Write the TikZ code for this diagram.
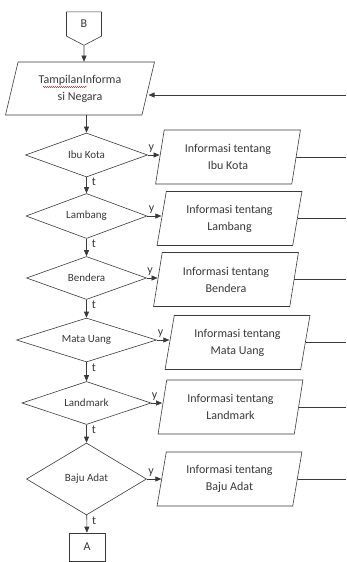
\documentclass[tikz,border=0pt]{standalone}
\usepackage{fontspec}
\setmainfont{Carlito}
\usetikzlibrary{shapes.geometric,shapes.symbols,arrows.meta,decorations.pathmorphing}
\definecolor{linegray}{HTML}{3A3A3A}
\definecolor{textgray}{HTML}{383838}
\tikzset{
  info/.style={draw=linegray, trapezium, trapezium left angle=77, trapezium right angle=103,
    trapezium stretches=true, minimum width=145pt, minimum height=54pt, inner sep=0pt,
    align=center, font=\fontsize{12}{17}\selectfont},
  decision/.style={draw=linegray, diamond, aspect=2.7, inner sep=0pt,
    font=\fontsize{11}{13}\selectfont},
  offpage/.style={draw=linegray, signal, signal to=south, signal from=nowhere,
    signal pointer angle=125, minimum width=35pt, minimum height=26pt, inner sep=0pt,
    font=\fontsize{12}{14}\selectfont},
  lbl/.style={font=\fontsize{12}{14}\selectfont, inner sep=1pt},
  spelling/.style={red, line width=0.4pt, decorate,
    decoration={snake, amplitude=0.6pt, segment length=2pt}}
}
\begin{document}
\begin{tikzpicture}[x=1pt, y=-1pt, every node/.append style={text=textgray},
    >={Triangle[length=6pt,width=5pt]}, line width=0.6pt]
  \useasboundingbox (0,0) rectangle (346,562);

  \node[offpage] (b) at (84,24) {B};
  \node[info, trapezium left angle=73, trapezium right angle=107, minimum width=150pt,
    minimum height=53pt] (p0) at (80,88.5) {TampilanInforma\\si Negara};
  \draw[spelling] ([shift={(-37,-1.5)}]p0.center) -- ([shift={(7,-1.5)}]p0.center);

  \node[decision, minimum width=122pt, minimum height=44pt] (d1) at (86.5,155) {Ibu Kota};
  \node[decision, minimum width=121pt, minimum height=45pt] (d2) at (86.5,216) {Lambang};
  \node[decision, minimum width=120pt, minimum height=43pt] (d3) at (86.5,278) {Bendera};
  \node[decision, minimum width=140pt, minimum height=44pt] (d4) at (86.5,340) {Mata Uang};
  \node[decision, minimum width=129pt, minimum height=43pt] (d5) at (86.5,403) {Landmark};
  \node[decision, minimum width=120pt, minimum height=72pt] (d6) at (86.5,479) {Baju Adat};

  \node[info] (i1) at (228,157) {Informasi tentang\\Ibu Kota};
  \node[info] (i2) at (229.5,218.5) {Informasi tentang\\Lambang};
  \node[info] (i3) at (226,279.5) {Informasi tentang\\Bendera};
  \node[info] (i4) at (237.5,342.5) {Informasi tentang\\Mata Uang};
  \node[info] (i5) at (230.5,407) {Informasi tentang\\Landmark};
  \node[info] (i6) at (229.5,479) {Informasi tentang\\Baju Adat};

  \node[draw=linegray, minimum width=36pt, minimum height=28pt, inner sep=0pt,
    font=\fontsize{12}{14}\selectfont] (a) at (87,547) {A};

  \coordinate (r0) at (346,95);

  % alur utama
  \draw[->, linegray] (b) -- (b |- p0.north);
  \draw[->, linegray] (p0.south -| d1) -- (d1);
  \draw[->, linegray] (d1) -- node[lbl, pos=.3, right=4pt] {t} (d2);
  \draw[->, linegray] (d2) -- node[lbl, pos=.3, right=4pt] {t} (d3);
  \draw[->, linegray] (d3) -- node[lbl, pos=.3, right=4pt] {t} (d4);
  \draw[->, linegray] (d4) -- node[lbl, pos=.3, right=4pt] {t} (d5);
  \draw[->, linegray] (d5) -- node[lbl, pos=.3, right=4pt] {t} (d6);
  \draw[->, linegray] (d6) -- node[lbl, pos=.3, right=4pt] {t} (a);

  % cabang ya
  \foreach \k in {1,...,6}
    \draw[->, linegray] (d\k.east) -- node[lbl, pos=.3, above=1pt] {y} (d\k.east -| i\k.west);

  % kembali ke tampilan
  \foreach \k in {1,...,6}
    \draw[linegray] (i\k.east) -- (i\k.east -| r0);
  \draw[->, linegray] (r0) -- (r0 -| p0.east);
\end{tikzpicture}
\end{document}
